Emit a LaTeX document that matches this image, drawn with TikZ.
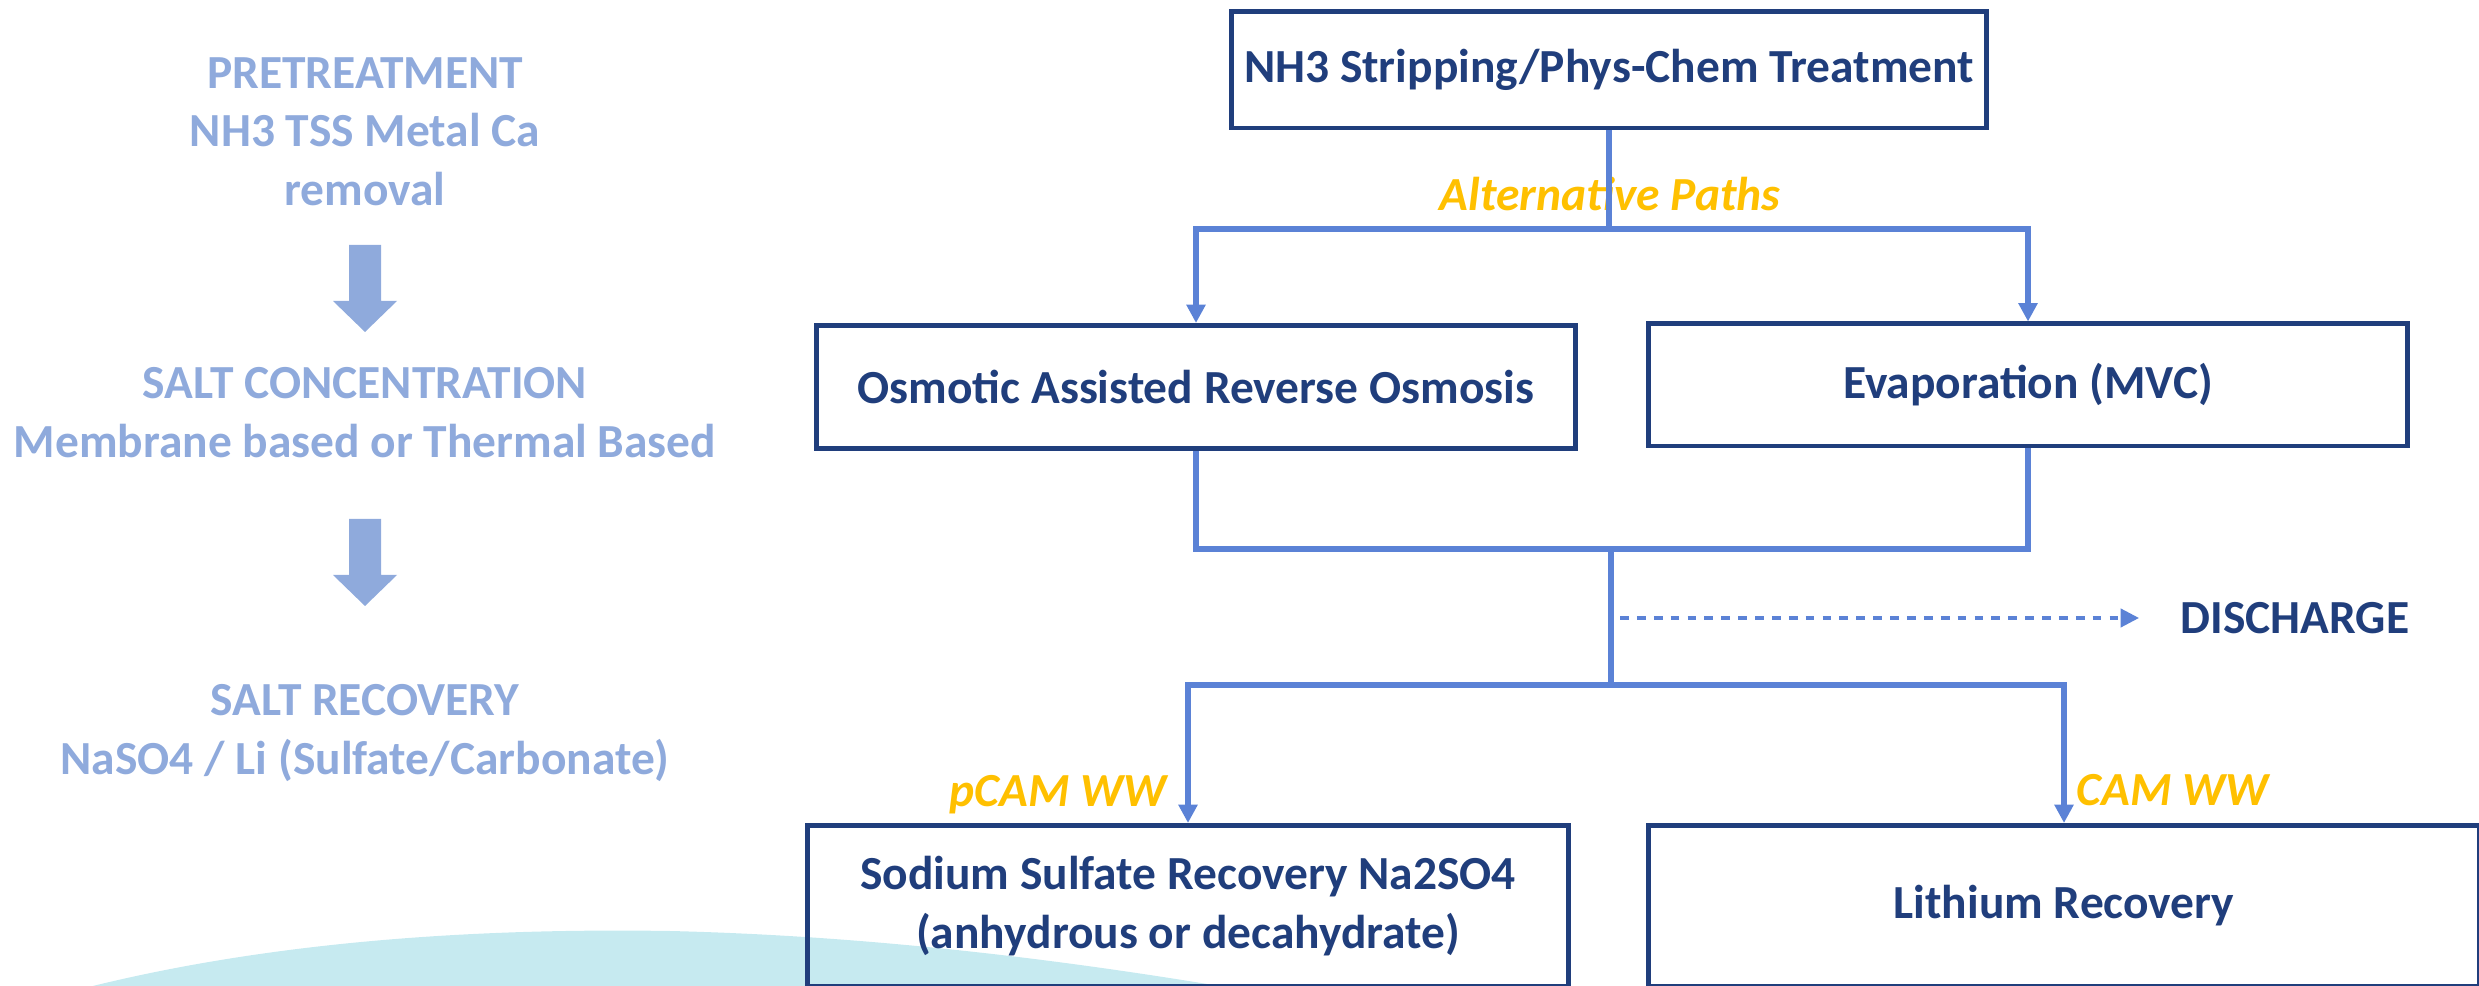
\documentclass[tikz,border=0pt]{standalone}
\usepackage{fontspec}
\setmainfont{Carlito}
\usepackage{tikz}
\usetikzlibrary{positioning}
\usetikzlibrary{arrows.meta}
\usepackage{xcolor}
\definecolor{navy}{HTML}{203E7C}
\definecolor{linkblue}{HTML}{5B82D6}
\definecolor{paleblue}{HTML}{8FAADC}
\definecolor{gold}{HTML}{FFC000}
\definecolor{wavecyan}{HTML}{C6EAF0}
\newcommand\boxfont{\fontsize{13.5}{16.6}\selectfont\bfseries}

\begin{document}
\begin{tikzpicture}[x=0.01cm, y=-0.01cm,
		stage/.style={draw=navy, line width=1.4pt, text=navy, font=\boxfont, align=center, inner sep=0pt},
		link/.style={linkblue, line width=1.45pt},
		linkarrow/.style={link, -{Triangle[length=5.2pt, width=5.2pt]}},
		pathlabel/.style={text=gold, font=\boxfont\itshape, inner sep=0pt},
		phase/.style={text=paleblue, font=\boxfont, align=center, inner sep=0pt, anchor=north}]
	    		\useasboundingbox (0,0) rectangle (2479,986);
	    		\fill[wavecyan] (40,1000) .. controls (250,940) and (480,928) .. (670,931) .. controls (880,936) and (1090,962) .. (1300,1000) -- cycle;
	    		% left column
	    		\node[phase] (pre) at (365,57) {PRETREATMENT\\NH3 TSS Metal Ca\\removal};
	    		\node[phase] (conc) at (365,367) {SALT CONCENTRATION\\Membrane based or Thermal Based};
	    		\node[phase] (reco) at (365,684) {SALT RECOVERY\\NaSO4 / Li (Sulfate/Carbonate)};
	    		\foreach \ytop in {245,519}
	    			\fill[paleblue] (349,\ytop) -- ++(32,0) -- ++(0,56) -- ++(16,0) -- ++(-32,31) -- ++(-32,-31) -- ++(16,0) -- cycle;
	    		% process boxes
	    		\node[stage, minimum width=7.55cm, minimum height=1.16cm] (strip) at (1609,70) {NH3 Stripping/Phys-Chem Treatment};
	    		\node[stage, minimum width=7.59cm, minimum height=1.23cm] (oaro) at (1196,387) {Osmotic Assisted Reverse Osmosis};
	    		\node[stage, minimum width=7.59cm, minimum height=1.22cm] (mvc) at (2028,385) {Evaporation (MVC)};
	    		\node[stage, minimum width=7.60cm, minimum height=1.61cm] (sodium) at (1188,906) {Sodium Sulfate Recovery Na2SO4\\(anhydrous or decahydrate)};
	    		\node[stage, minimum width=8.31cm, minimum height=1.61cm] (lithium) at (2064,906) {Lithium Recovery};
	    		\node[text=navy, font=\boxfont, inner sep=0pt] (discharge) at (2295,618) {DISCHARGE};
	    		% labels
	    		\node[pathlabel, anchor=base] (alt) at (1610,211) {Alternative Paths};
	    		\node[pathlabel, anchor=base east] (pcam) at (1167,807) {pCAM WW};
	    		\node[pathlabel, anchor=base west] (cam) at (2076,806) {CAM WW};
	    		% connectors
	    		\coordinate (fork) at (1609,229);
	    		\coordinate (join) at (1611,549);
	    		\coordinate (fork2) at (1611,685);
	    		\coordinate (tap) at (1620,618);
	    		\draw[link] (strip.south) -- (fork);
	    		\draw[linkarrow] (fork) -| (oaro.north);
	    		\draw[linkarrow] (fork) -| (mvc.north);
	    		\draw[link] (oaro.south) |- (join);
	    		\draw[link] (mvc.south) |- (join);
	    		\draw[link] (join) -- (fork2);
	    		\draw[linkarrow] (fork2) -| (sodium.north);
	    		\draw[linkarrow] (fork2) -| (lithium.north);
	    		\draw[linkarrow, line width=0.9pt, dash pattern=on 2.5pt off 2.3pt] (tap) -- ([xshift=-0.41cm]discharge.west);
			\end{tikzpicture}
\end{document}
